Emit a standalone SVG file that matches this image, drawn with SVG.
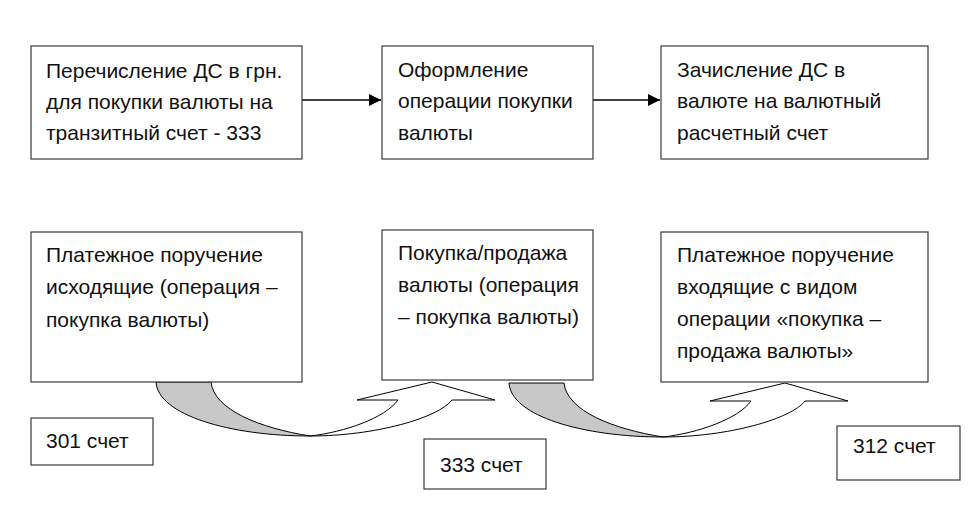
<svg xmlns="http://www.w3.org/2000/svg" width="975" height="530" viewBox="0 0 975 530">
<style>
.box{fill:#fff;stroke:#3a3a3a;stroke-width:1.2}
.t{font-family:"Liberation Sans",Arial,sans-serif;font-size:21px;fill:#111}
.ln{stroke:#000;stroke-width:1.6;fill:none}
.tail{fill:#c8c8c8;stroke:#000;stroke-width:1}
.body{fill:#fff;stroke:#000;stroke-width:1;stroke-linejoin:miter}
</style>
<defs>
<marker id="ah" viewBox="0 0 10 10" refX="10" refY="5" markerWidth="8" markerHeight="7.5" orient="auto" markerUnits="strokeWidth">
<path d="M0,0 L10,5 L0,10 Z" fill="#000"/>
</marker>
<g id="curve">
<path class="tail" d="M156,382 L211,382 C214,410 260,428 310,436 C230,436 158,415 156,382 Z"/>
<path class="body" d="M310,436 C345,432 385,418 398,400 L357,400 L432,382 L495,400 L452,400 C438,418 375,436 310,436 Z"/>
</g>
</defs>
<rect width="975" height="530" fill="#fff"/>
<g id="connectors">
<line class="ln" x1="302" y1="100" x2="381" y2="100" marker-end="url(#ah)"/>
<line class="ln" x1="593" y1="100" x2="660" y2="100" marker-end="url(#ah)"/>
<use href="#curve"/>
<use href="#curve" transform="translate(353,1)"/>
</g>
<g id="n1">
<rect class="box" x="31" y="46" width="271" height="113"/>
<text class="t" x="46" y="78">Перечисление ДС в грн.</text>
<text class="t" x="46" y="109">для покупки валюты на</text>
<text class="t" x="46" y="140">транзитный счет - 333</text>
</g>
<g id="n2">
<rect class="box" x="382" y="46" width="211" height="113"/>
<text class="t" x="398" y="77">Оформление</text>
<text class="t" x="398" y="108">операции покупки</text>
<text class="t" x="398" y="140">валюты</text>
</g>
<g id="n3">
<rect class="box" x="661" y="46" width="267" height="113"/>
<text class="t" x="677" y="77">Зачисление ДС в</text>
<text class="t" x="677" y="108">валюте на валютный</text>
<text class="t" x="677" y="140">расчетный счет</text>
</g>
<g id="n4">
<rect class="box" x="31" y="232" width="271" height="150"/>
<text class="t" x="46" y="262">Платежное поручение</text>
<text class="t" x="46" y="294">исходящие (операция –</text>
<text class="t" x="46" y="327">покупка валюты)</text>
</g>
<g id="n5">
<rect class="box" x="382" y="230" width="211" height="150"/>
<text class="t" x="398" y="260">Покупка/продажа</text>
<text class="t" x="398" y="292">валюты (операция</text>
<text class="t" x="398" y="324">– покупка валюты)</text>
</g>
<g id="n6">
<rect class="box" x="661" y="232" width="267" height="150"/>
<text class="t" x="677" y="262">Платежное поручение</text>
<text class="t" x="677" y="294">входящие с видом</text>
<text class="t" x="677" y="326">операции «покупка –</text>
<text class="t" x="677" y="358">продажа валюты»</text>
</g>
<g id="n7">
<rect class="box" x="31" y="418" width="122" height="47"/>
<text class="t" x="46" y="448">301 счет</text>
</g>
<g id="n8">
<rect class="box" x="424" y="439" width="122" height="50"/>
<text class="t" x="440" y="472">333 счет</text>
</g>
<g id="n9">
<rect class="box" x="837" y="426" width="123" height="54"/>
<text class="t" x="853" y="453">312 счет</text>
</g>
</svg>
